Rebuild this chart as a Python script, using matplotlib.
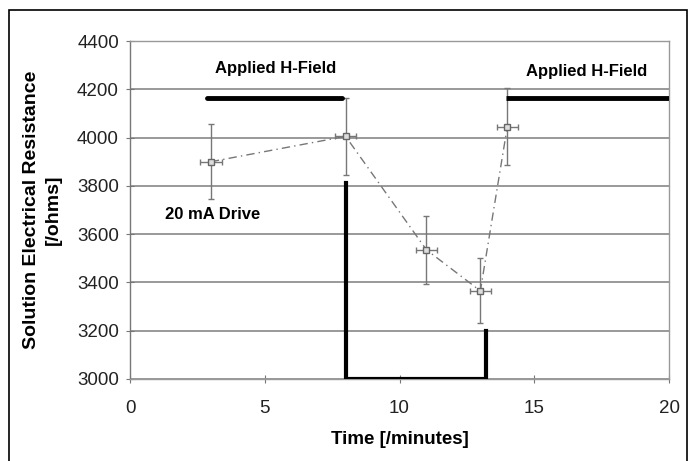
import matplotlib.pyplot as plt
from matplotlib.patches import Rectangle

plt.rcParams['font.family'] = ['Liberation Sans', 'DejaVu Sans']

# measured resistance
t = [3, 8, 11, 13, 14]
r = [3900, 4005, 3535, 3365, 4045]
r_err = [155, 160, 140, 135, 160]
t_err = [0.4, 0.4, 0.4, 0.4, 0.4]

# applied field bars
field1_t = [2.85, 7.85]
field1_r = [4162, 4162]
field2_t = [13.95, 20]
field2_r = [4165, 4165]

# 20 mA drive trace
drive_t = [8, 8, 13.2, 13.2]
drive_r = [3810, 3000, 3000, 3200]

fig = plt.figure(figsize=(6.89, 4.61), dpi=100)
ax = fig.add_axes([130 / 689, 1 - 379 / 461, 539 / 689, 338 / 461])

ax.errorbar(t, r, yerr=r_err, xerr=t_err, fmt='s', color='#777777', ecolor='#777777',
            mfc='#dddddd', mec='#666666', ms=5, elinewidth=1, capsize=2.5, capthick=1,
            ls=(0, (6, 3, 1, 3)), lw=1, zorder=3)
ax.plot(field1_t, field1_r, color='black', lw=3.5, solid_capstyle='round', zorder=4)
ax.plot(field2_t, field2_r, color='black', lw=3.5, solid_capstyle='butt', zorder=4)
ax.plot(drive_t, drive_r, color='black', lw=3, solid_joinstyle='miter', zorder=4)

ax.set_xlim(0, 20)
ax.set_ylim(3000, 4400)
ax.set_xticks([0, 5, 10, 15, 20])
ax.set_yticks(range(3000, 4401, 200))
ax.grid(axis='y', color='#888888', lw=1.2)
ax.set_axisbelow(True)
for s in ax.spines.values():
    s.set_color('#999999')
    s.set_linewidth(1)
ax.spines['left'].set_color('#777777')
ax.tick_params(axis='both', labelsize=13.5, colors='#222222', length=6, direction='inout',
               color='#777777', pad=5)
ax.tick_params(axis='x', pad=12)

ax.text(5.4, 4288, 'Applied H-Field', ha='center', va='center', fontsize=12, fontweight='bold')
ax.text(16.95, 4272, 'Applied H-Field', ha='center', va='center', fontsize=12, fontweight='bold')
ax.text(3.06, 3682, '20 mA Drive', ha='center', va='center', fontsize=12, fontweight='bold')

ax.set_xlabel('Time [/minutes]', fontsize=13.5, fontweight='bold', labelpad=10)
ax.set_ylabel('Solution Electrical Resistance\n[/ohms]', fontsize=14, fontweight='bold', labelpad=11,
              linespacing=1.35)

fig.patches.append(Rectangle((9 / 689, -0.1), 678 / 689, 1.1 - 10 / 461, transform=fig.transFigure,
                             fill=False, ec='black', lw=1.2))

fig.savefig('out.png', dpi=100)
